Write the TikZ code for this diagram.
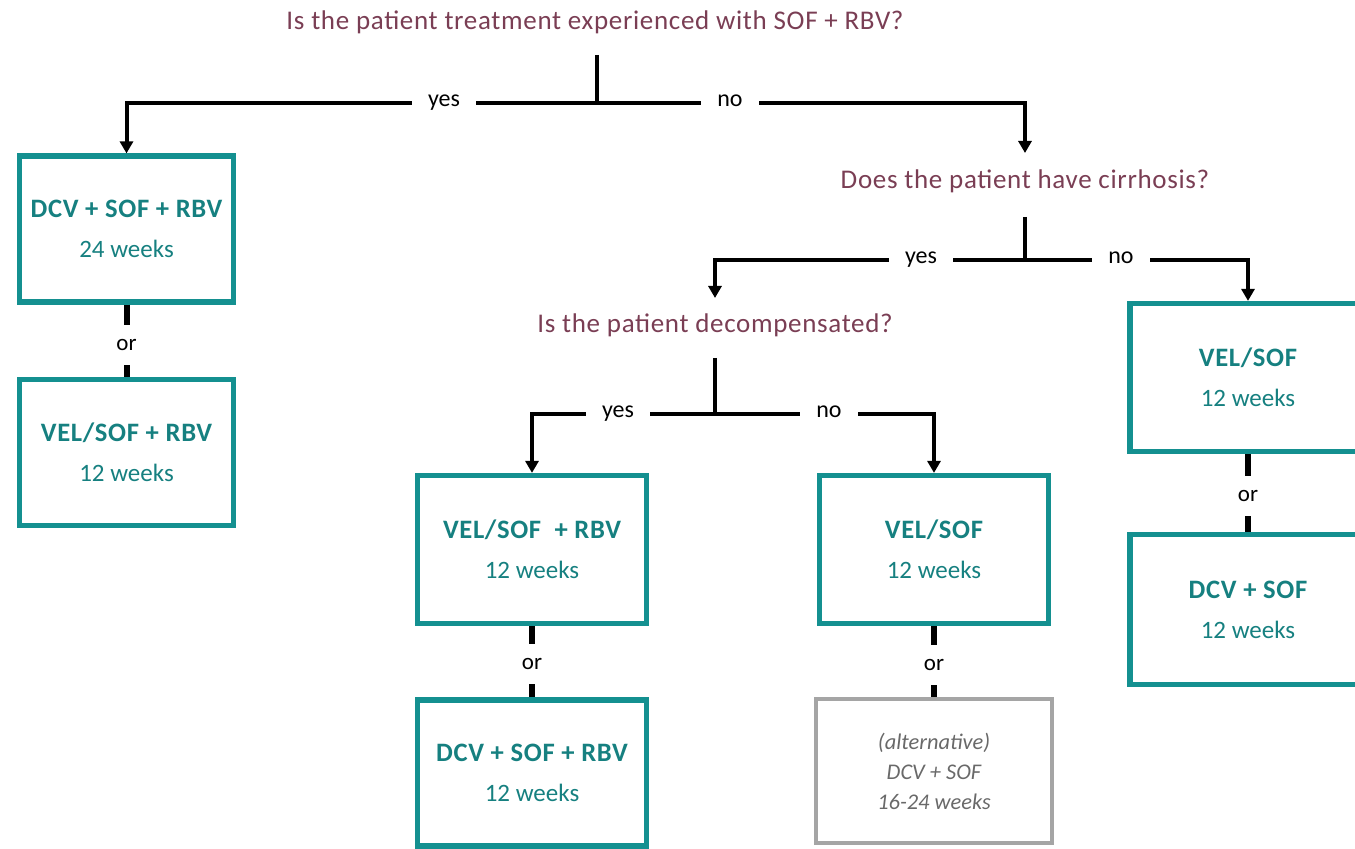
\documentclass[tikz,border=0pt]{standalone}
\usepackage{fontspec}
\setmainfont{Carlito}
\usetikzlibrary{arrows.meta}

\definecolor{qcol}{RGB}{122,62,84}
\definecolor{tealb}{RGB}{20,144,144}
\definecolor{tealt}{RGB}{22,128,128}
\definecolor{greyb}{RGB}{165,165,165}
\definecolor{greyt}{RGB}{105,105,105}

\tikzset{
  question/.style={text=qcol, font=\fontsize{13.5}{16}\selectfont\addfontfeature{LetterSpace=2.5},
    inner sep=0pt},
  flow/.style={line width=2pt, black},
  flowarrow/.style={flow, -{Triangle[width=6.5pt,length=6pt]}},
  branchlabel/.style={inner xsep=8pt, inner ysep=0pt, text height=6pt, text depth=2pt,
    font=\fontsize{12}{14}\selectfont},
  orlink/.style={line width=3pt, black},
  orlabel/.style={inner xsep=0pt, inner ysep=0pt, minimum height=20pt,
    font=\fontsize{11.5}{13}\selectfont},
  regimen/.style={draw=tealb, line width=2.6pt, text=tealt, align=center, inner sep=0pt,
    font=\fontsize{12.5}{15}\selectfont},
  altregimen/.style={draw=greyb, line width=2.2pt, text=greyt, align=center, inner sep=0pt,
    font=\fontsize{11.2}{15}\selectfont\itshape},
}

% drug combination in bold over its duration
\newcommand{\rx}[2]{{\fontsize{13.3}{15}\selectfont\bfseries\addfontfeature{LetterSpace=2.5}#1}\\[5pt]#2}

\begin{document}
\begin{tikzpicture}[x=0.5pt, y=-0.5pt]
  \useasboundingbox (0,0) rectangle (1355,849);
  \clip (0,0) rectangle (1355,849);

  % questions
  \node[question] (q1) at (595,22) {Is the patient treatment experienced with SOF + RBV?};
  \node[question] (q2) at (1025,181) {Does the patient have cirrhosis?};
  \node[question] (q3) at (715,325) {Is the patient decompensated?};

  % regimens
  \node[regimen, minimum width=107pt, minimum height=73pt] (A) at (126.5,229)
    {\rx{DCV + SOF + RBV}{24 weeks}};
  \node[regimen, minimum width=107pt, minimum height=73pt] (B) at (126.5,452.5)
    {\rx{VEL/SOF + RBV}{12 weeks}};
  \node[regimen, minimum width=114.5pt, minimum height=74pt] (C) at (532,549.5)
    {\rx{VEL/SOF~ + RBV}{12 weeks}};
  \node[regimen, minimum width=114.5pt, minimum height=73pt] (D) at (532,773)
    {\rx{DCV + SOF + RBV}{12 weeks}};
  \node[regimen, minimum width=114.5pt, minimum height=74pt] (E) at (934,549.5)
    {\rx{VEL/SOF}{12 weeks}};
  \node[altregimen, minimum width=118pt, minimum height=72pt] (F) at (934,771)
    {(alternative)\\DCV + SOF\\16-24 weeks};
  \node[regimen, minimum width=118pt, minimum height=74pt] (G) at (1248,377.5)
    {\rx{VEL/SOF}{12 weeks}};
  \node[regimen, minimum width=118pt, minimum height=75pt] (H) at (1248,609.5)
    {\rx{DCV + SOF}{12 weeks}};

  % branch points and free ends
  \coordinate (s1) at (597,55);
  \coordinate (j1) at (597,103);
  \coordinate (t2) at (1025,153);
  \coordinate (s2) at (1025,217);
  \coordinate (j2) at (1025,260);
  \coordinate (t3) at (715,298);
  \coordinate (s3) at (715,358);
  \coordinate (j3) at (715,414);

  % branch labels
  \node[branchlabel] (yes1) at (444,103) {yes};
  \node[branchlabel] (no1)  at (730,103) {no};
  \node[branchlabel] (yes2) at (921,260) {yes};
  \node[branchlabel] (no2)  at (1121,260) {no};
  \node[branchlabel] (yes3) at (618,414) {yes};
  \node[branchlabel] (no3)  at (829,414) {no};

  % "or" labels
  \node[orlabel] (or1) at (126.5,345) {or};
  \node[orlabel] (or2) at (532,664) {or};
  \node[orlabel] (or3) at (934,665) {or};
  \node[orlabel] (or4) at (1248,496) {or};

  % first decision
  \draw[flow] (s1) -- (j1);
  \draw[flow] (j1) -- (yes1.east);
  \draw[flowarrow] (yes1.west) -| (A.north);
  \draw[flow] (j1) -- (no1.west);
  \draw[flowarrow] (no1.east) -| (t2);

  % second decision
  \draw[flow] (s2) -- (j2);
  \draw[flow] (j2) -- (yes2.east);
  \draw[flowarrow] (yes2.west) -| (t3);
  \draw[flow] (j2) -- (no2.west);
  \draw[flowarrow] (no2.east) -| (G.north);

  % third decision
  \draw[flow] (s3) -- (j3);
  \draw[flow] (j3) -- (yes3.east);
  \draw[flowarrow] (yes3.west) -| (C.north);
  \draw[flow] (j3) -- (no3.west);
  \draw[flowarrow] (no3.east) -| (E.north);

  % alternatives
  \draw[orlink] (A.south) -- (or1.north);
  \draw[orlink] (or1.south) -- (B.north);
  \draw[orlink] (C.south) -- (or2.north);
  \draw[orlink] (or2.south) -- (D.north);
  \draw[orlink] (E.south) -- (or3.north);
  \draw[orlink] (or3.south) -- (F.north);
  \draw[orlink] (G.south) -- (or4.north);
  \draw[orlink] (or4.south) -- (H.north);
\end{tikzpicture}
\end{document}
